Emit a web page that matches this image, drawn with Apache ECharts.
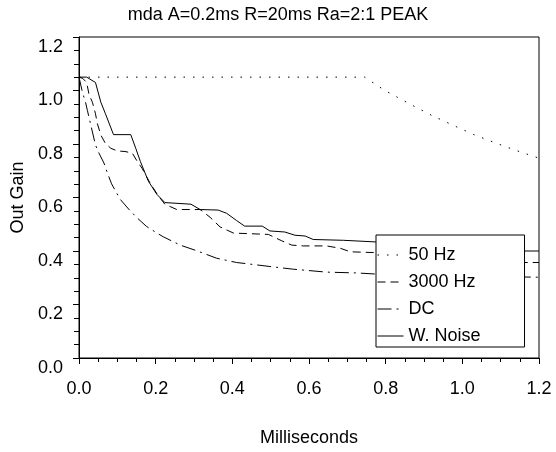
<!DOCTYPE html>
<html>
<head>
<meta charset="utf-8">
<script src="https://cdn.jsdelivr.net/npm/echarts@6/dist/echarts.min.js"></script>
<style>
  html, body { margin: 0; padding: 0; background: #fff; }
  #chart { width: 556px; height: 452px; }
</style>
</head>
<body>
<div id="chart"></div>
<script>
// values
const seriesNames = ['50 Hz', '3000 Hz', 'DC', 'W. Noise'];

const hz50X = [0, 0.745, 0.798, 0.865, 0.92, 0.976, 1.03, 1.09, 1.14, 1.2];
const hz50Y = [1.05, 1.05, 1.0, 0.948, 0.907, 0.87, 0.835, 0.802, 0.776, 0.747];

const hz3000X = [0, 0.01, 0.02, 0.026, 0.035, 0.043, 0.048, 0.057, 0.069, 0.083, 0.1, 0.12, 0.139, 0.152, 0.165, 0.185, 0.207, 0.224, 0.255, 0.316, 0.342, 0.368, 0.403, 0.494, 0.529, 0.555, 0.585, 0.646, 0.682, 0.708, 0.772, 0.95, 1.0, 1.2];
const hz3000Y = [1.05, 1.045, 1.03, 0.986, 0.956, 0.913, 0.876, 0.833, 0.802, 0.784, 0.774, 0.772, 0.766, 0.735, 0.708, 0.655, 0.606, 0.575, 0.555, 0.555, 0.526, 0.49, 0.467, 0.462, 0.438, 0.422, 0.419, 0.419, 0.41, 0.397, 0.394, 0.39, 0.357, 0.357];

const dcX = [0, 0.009, 0.017, 0.022, 0.035, 0.043, 0.052, 0.065, 0.074, 0.085, 0.107, 0.133, 0.15, 0.176, 0.2, 0.22, 0.264, 0.307, 0.359, 0.411, 0.464, 0.498, 0.559, 0.646, 0.724, 0.772, 0.9, 1.2];
const dcY = [1.05, 0.993, 0.956, 0.925, 0.845, 0.796, 0.766, 0.729, 0.692, 0.651, 0.594, 0.551, 0.526, 0.492, 0.47, 0.453, 0.422, 0.401, 0.373, 0.357, 0.348, 0.342, 0.332, 0.321, 0.318, 0.314, 0.308, 0.302];

const noiseX = [0, 0.02, 0.043, 0.057, 0.069, 0.09, 0.135, 0.148, 0.16, 0.181, 0.203, 0.224, 0.292, 0.316, 0.363, 0.385, 0.411, 0.432, 0.478, 0.498, 0.537, 0.563, 0.59, 0.611, 0.69, 0.772, 0.95, 1.0, 1.2];
const noiseY = [1.05, 1.05, 1.03, 0.956, 0.913, 0.835, 0.835, 0.784, 0.735, 0.661, 0.612, 0.581, 0.575, 0.555, 0.553, 0.541, 0.514, 0.493, 0.493, 0.475, 0.471, 0.459, 0.456, 0.443, 0.44, 0.434, 0.43, 0.40, 0.40];

const pairs = (xs, ys) => xs.map((x, i) => [x, ys[i]]);

const font = 'Liberation Sans, Arial, Helvetica, sans-serif';

var chartDom = document.getElementById('chart');
var myChart = echarts.init(chartDom);

const lineSeries = (name, xs, ys, dash) => ({
  name: name,
  type: 'line',
  symbol: 'none',
  data: pairs(xs, ys),
  lineStyle: { color: '#000', width: 1, type: dash },
  itemStyle: { color: '#000' }
});

let option = {
  animation: false,
  backgroundColor: '#fff',
  title: {
    text: 'mda A=0.2ms R=20ms Ra=2:1 PEAK',
    left: 'center',
    top: 1,
    textStyle: { fontFamily: font, fontSize: 18, fontWeight: 'normal', color: '#000' }
  },
  grid: {
    left: 79,
    right: 17,
    top: 37,
    bottom: 89,
    show: true,
    borderColor: '#000',
    borderWidth: 1
  },
  legend: {
    data: seriesNames,
    orient: 'vertical',
    left: 376,
    top: 235,
    itemWidth: 26,
    itemHeight: 14,
    itemGap: 9,
    padding: [11, 44, 2, 1],
    backgroundColor: '#fff',
    borderColor: '#000',
    borderWidth: 1,
    borderRadius: 0,
    // hide the marker dot that line series put in the middle of the icon
    itemStyle: { opacity: 0 },
    lineStyle: { width: 1 },
    textStyle: { fontFamily: font, fontSize: 18, color: '#000' }
  },
  xAxis: {
    type: 'value',
    min: 0,
    max: 1.2,
    interval: 0.2,
    name: 'Milliseconds',
    nameLocation: 'middle',
    nameGap: 71,
    nameTextStyle: { fontFamily: font, fontSize: 18, color: '#000' },
    axisLine: { lineStyle: { color: '#000' } },
    axisTick: { length: 6, lineStyle: { color: '#000' } },
    minorTick: { show: true, splitNumber: 4, length: 4, lineStyle: { color: '#000' } },
    splitLine: { show: false },
    axisLabel: {
      margin: 22,
      fontFamily: font,
      fontSize: 18,
      color: '#000',
      formatter: v => v.toFixed(1)
    }
  },
  yAxis: {
    type: 'value',
    min: 0,
    max: 1.2,
    interval: 0.2,
    name: 'Out Gain',
    nameLocation: 'middle',
    nameGap: 43,
    nameTextStyle: { fontFamily: font, fontSize: 18, color: '#000' },
    axisLine: { show: true, lineStyle: { color: '#000' } },
    axisTick: { show: true, length: 6, lineStyle: { color: '#000' } },
    minorTick: { show: true, splitNumber: 4, length: 5, lineStyle: { color: '#000' } },
    splitLine: { show: false },
    axisLabel: {
      margin: 16,
      fontFamily: font,
      fontSize: 18,
      color: '#000',
      verticalAlign: 'top',
      lineHeight: 20,
      formatter: v => v.toFixed(1)
    }
  },
  series: [
    lineSeries('50 Hz', hz50X, hz50Y, [1.5, 8]),
    lineSeries('3000 Hz', hz3000X, hz3000Y, [8, 5]),
    lineSeries('DC', dcX, dcY, [14, 5, 2, 5]),
    lineSeries('W. Noise', noiseX, noiseY, 'solid')
  ]
};
option && myChart.setOption(option);
</script>
</body>
</html>
